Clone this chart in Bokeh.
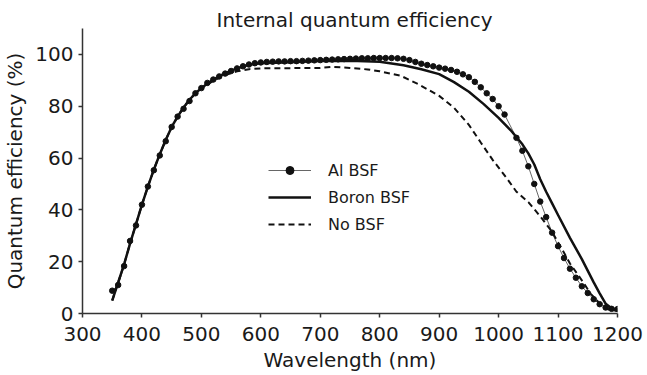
from bokeh.plotting import figure
from bokeh.models import Range1d, Legend, LegendItem, FixedTicker, Title
from bokeh.embed import file_html
from bokeh.resources import INLINE

# ---- data ----
al_x = [350, 360, 370, 380, 390, 400, 410, 420, 430, 440, 450, 460, 470, 480, 490,
        500, 510, 520, 530, 540, 550, 560, 570, 580, 590, 600, 610, 620, 630, 640,
        650, 660, 670, 680, 690, 700, 710, 720, 730, 740, 750, 760, 770, 780, 790,
        800, 810, 820, 830, 840, 850, 860, 870, 880, 890, 900, 910, 920, 930, 940,
        950, 960, 970, 980, 990, 1000, 1010, 1030, 1040, 1050, 1060, 1070, 1080,
        1090, 1100, 1110, 1120, 1130, 1140, 1150, 1160, 1170, 1180, 1190, 1200]
al_y = [8.8, 11.0, 18.3, 28.0, 34.0, 42.0, 49.0, 55.3, 61.0, 66.5, 72.0, 76.0, 79.0, 82.0, 85.0,
        87.0, 89.0, 90.3, 91.5, 92.6, 93.6, 94.6, 95.4, 96.1, 96.6, 96.9, 97.1, 97.2, 97.3, 97.3,
        97.4, 97.4, 97.5, 97.6, 97.7, 97.8, 97.9, 98.0, 98.1, 98.2, 98.3, 98.4, 98.5, 98.5, 98.6,
        98.6, 98.6, 98.6, 98.5, 98.3, 97.8, 97.1, 96.4, 95.9, 95.4, 94.9, 94.5, 94.0, 93.3, 92.3,
        91.2, 89.4, 87.3, 85.0, 82.8, 80.0, 76.8, 67.8, 62.8, 56.8, 50.0, 43.2, 37.2,
        31.2, 26.0, 21.4, 17.3, 13.8, 10.5, 7.9, 5.5, 3.6, 2.3, 1.8, 1.7]

boron_x = [350, 360, 370, 380, 390, 400, 410, 420, 430, 440, 450, 460, 470, 480, 490,
           500, 520, 540, 560, 580, 600, 650, 700, 750, 800, 840, 870, 900, 925, 950,
           975, 1000, 1020, 1040, 1050, 1060, 1070, 1080, 1090, 1100, 1120, 1140, 1160,
           1170, 1180, 1190, 1200]
boron_y = [5.0, 12.0, 19.0, 27.0, 34.5, 42.0, 49.0, 55.5, 61.5, 67.0, 72.0, 76.0, 79.5, 82.5, 85.0,
           87.0, 90.3, 92.8, 94.6, 96.0, 96.6, 97.0, 97.5, 97.6, 97.2, 95.8, 94.3, 92.4, 89.3, 85.6,
           80.8, 75.5, 70.8, 65.3, 61.8, 57.5, 51.8, 47.0, 42.5, 38.0, 29.2, 21.0, 12.0,
           7.8, 3.8, 2.0, 1.5]

nobsf_x = [350, 360, 370, 380, 390, 400, 410, 420, 430, 440, 450, 460, 470, 480, 490,
           500, 520, 540, 560, 580, 600, 650, 700, 720, 750, 780, 800, 835, 865, 900,
           925, 950, 970, 990, 1015, 1030, 1050, 1070, 1090, 1105, 1120, 1140, 1155,
           1170, 1185, 1200]
nobsf_y = [5.0, 12.0, 19.0, 27.0, 34.5, 42.0, 49.0, 55.5, 61.5, 67.0, 72.0, 76.0, 79.5, 82.5, 85.0,
           86.8, 89.8, 92.0, 93.5, 94.3, 94.6, 94.7, 94.8, 95.2, 94.8, 94.2, 93.5, 91.8, 88.5, 84.0,
           79.4, 72.8, 66.0, 59.3, 51.8, 47.0, 43.0, 37.5, 31.5, 25.5, 19.3, 12.8, 7.6,
           3.9, 1.5, 1.0]

x_ticks = [300, 400, 500, 600, 700, 800, 900, 1000, 1100, 1200]
y_ticks = [0, 20, 40, 60, 80, 100]

FONT = "DejaVu Sans"
TXT = "#1a1a1a"

p = figure(frame_width=535, frame_height=285, output_backend="svg", toolbar_location=None,
           x_range=Range1d(300, 1200), y_range=Range1d(0, 110),
           min_border_left=82, min_border_right=29, min_border_top=28, min_border_bottom=60)
p.title = Title(text="Internal quantum efficiency", align="left", offset=134, standoff=-7,
                text_font=FONT, text_font_size="20px", text_font_style="normal", text_color=TXT)
p.outline_line_color = None
p.grid.visible = False
p.background_fill_color = "white"
p.border_fill_color = "white"

for ax in (p.xaxis[0], p.yaxis[0]):
    ax.axis_line_color = "#333333"
    ax.axis_line_width = 1.5
    ax.major_tick_line_color = "#333333"
    ax.major_tick_line_width = 1.5
    ax.major_tick_in = 0
    ax.major_tick_out = 4
    ax.minor_tick_line_color = None
    ax.major_label_text_font = FONT
    ax.major_label_text_font_size = "20px"
    ax.major_label_text_color = TXT
    ax.axis_label_text_font = FONT
    ax.axis_label_text_font_size = "20px"
    ax.axis_label_text_font_style = "normal"
    ax.axis_label_text_color = TXT

p.xaxis.ticker = FixedTicker(ticks=x_ticks)
p.yaxis.ticker = FixedTicker(ticks=y_ticks)
p.xaxis.axis_label = "Wavelength (nm)"
p.yaxis.axis_label = "Quantum efficiency (%)"
p.xaxis.major_label_standoff = 9
p.yaxis.major_label_standoff = 5
p.xaxis.axis_label_standoff = 4
p.yaxis.axis_label_standoff = 5

r_al_line = p.line(al_x, al_y, line_color="#666666", line_width=1)
r_al_pts = p.scatter(al_x, al_y, marker="circle", size=5.5, fill_color="#111111", line_color="#111111")
r_boron = p.line(boron_x, boron_y, line_color="#111111", line_width=2.5)
r_nobsf = p.line(nobsf_x, nobsf_y, line_color="#111111", line_width=2, line_dash="6 4")

legend = Legend(items=[
    LegendItem(label="Al BSF", renderers=[r_al_line, r_al_pts]),
    LegendItem(label="Boron BSF", renderers=[r_boron]),
    LegendItem(label="No BSF", renderers=[r_nobsf]),
], location=(186, 79), padding=0, margin=0, spacing=7,
   glyph_width=43, glyph_height=20, label_height=20, label_standoff=17,
   label_text_font=FONT, label_text_font_size="16px", label_text_color=TXT,
   border_line_color=None, background_fill_alpha=0)
p.add_layout(legend, "center")

open("out.html", "w").write(file_html(p, INLINE))
